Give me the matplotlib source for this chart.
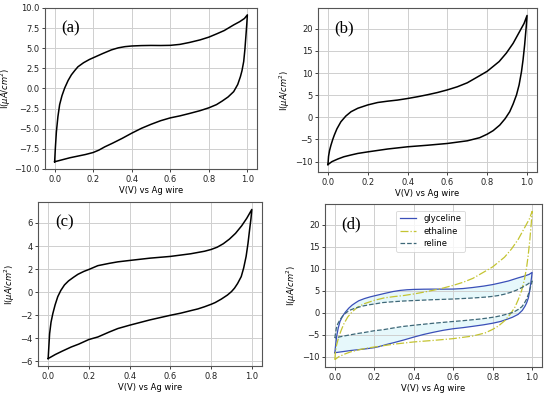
import numpy as np
import matplotlib
matplotlib.use("Agg")
import matplotlib.pyplot as plt

# ---------------- data ----------------
# glyceline, panel (a)
gly_fwd_v = [0, 0.004, 0.009, 0.017, 0.026, 0.038, 0.052, 0.07, 0.087, 0.105, 0.121, 0.15, 0.18,
             0.208, 0.25, 0.295, 0.33, 0.365, 0.4, 0.45, 0.5, 0.55, 0.6, 0.65, 0.7, 0.755, 0.8,
             0.842, 0.88, 0.929, 0.96, 0.985, 1.0]
gly_fwd_i = [-9.1, -7.3, -5.4, -3.5, -2.0, -0.9, 0.05, 1.0, 1.7, 2.25, 2.7, 3.2, 3.6,
             3.9, 4.35, 4.8, 5.05, 5.2, 5.28, 5.33, 5.35, 5.34, 5.36, 5.48, 5.72, 6.04, 6.38,
             6.8, 7.2, 7.9, 8.3, 8.7, 9.15]
gly_rev_v = [1.0, 0.997, 0.993, 0.987, 0.981, 0.972, 0.964, 0.95, 0.929, 0.9, 0.87, 0.84, 0.8,
             0.755, 0.7, 0.65, 0.6, 0.55, 0.5, 0.45, 0.4, 0.35, 0.3, 0.26, 0.23, 0.2, 0.16,
             0.12, 0.08, 0.04, 0.0]
gly_rev_i = [9.15, 8.0, 6.7, 4.8, 3.35, 2.2, 1.48, 0.5, -0.39, -1.05, -1.55, -2.0, -2.4,
             -2.75, -3.1, -3.4, -3.65, -4.0, -4.45, -4.95, -5.55, -6.2, -6.8, -7.25, -7.65, -7.95, -8.2,
             -8.4, -8.6, -8.85, -9.1]

# ethaline, panel (b)
eth_fwd_v = [0, 0.003, 0.008, 0.015, 0.024, 0.032, 0.045, 0.065, 0.09, 0.116, 0.15, 0.2, 0.25,
             0.3, 0.35, 0.4, 0.45, 0.5, 0.55, 0.6, 0.65, 0.7, 0.762, 0.8, 0.83, 0.86, 0.896,
             0.93, 0.963, 0.985, 1.0]
eth_fwd_i = [-10.66, -8.8, -7.5, -6.3, -5.0, -4.0, -2.6, -1.0, 0.3, 1.27, 2.05, 2.8, 3.35,
             3.65, 3.9, 4.25, 4.65, 5.1, 5.6, 6.2, 6.9, 7.8, 9.4, 10.4, 11.5, 12.6, 14.5,
             16.7, 19.4, 21.2, 23.0]
eth_rev_v = [1.0, 0.996, 0.992, 0.988, 0.98, 0.972, 0.96, 0.947, 0.93, 0.913, 0.89, 0.863, 0.83,
             0.8, 0.762, 0.7, 0.6, 0.5, 0.4, 0.35, 0.3, 0.2, 0.15, 0.116, 0.08, 0.05, 0.02, 0.0]
eth_rev_i = [23.0, 20.5, 18.5, 16.4, 13.0, 10.3, 7.3, 5.06, 3.0, 1.27, -0.3, -1.75, -3.0,
             -3.8, -4.6, -5.3, -5.9, -6.3, -6.65, -6.9, -7.15, -7.8, -8.15, -8.5, -8.9, -9.4, -10.0, -10.66]

# reline, panel (c)
rel_fwd_v = [0, 0.003, 0.007, 0.014, 0.023, 0.034, 0.047, 0.062, 0.08, 0.1, 0.125, 0.146, 0.175,
             0.2, 0.244, 0.3, 0.342, 0.4, 0.5, 0.6, 0.7, 0.768, 0.8, 0.83, 0.86, 0.89, 0.92,
             0.95, 0.975, 1.0]
rel_fwd_i = [-5.75, -4.8, -3.6, -2.6, -1.84, -1.1, -0.39, 0.15, 0.63, 0.98, 1.3, 1.55, 1.8,
             1.97, 2.3, 2.5, 2.63, 2.75, 2.95, 3.1, 3.33, 3.55, 3.7, 3.9, 4.2, 4.6, 5.1,
             5.75, 6.4, 7.17]
rel_rev_v = [1.0, 0.996, 0.989, 0.981, 0.972, 0.96, 0.948, 0.93, 0.915, 0.9, 0.88, 0.85, 0.82,
             0.8, 0.768, 0.735, 0.7, 0.65, 0.6, 0.5, 0.4, 0.342, 0.3, 0.244, 0.2, 0.15, 0.113,
             0.07, 0.035, 0.0]
rel_rev_i = [7.17, 6.4, 5.4, 4.2, 3.1, 2.1, 1.35, 0.75, 0.35, 0.05, -0.25, -0.6, -0.9,
             -1.05, -1.26, -1.45, -1.6, -1.82, -2.0, -2.4, -2.86, -3.15, -3.45, -3.88, -4.1, -4.5, -4.75,
             -5.1, -5.4, -5.75]

series_names = ["glyceline", "ethaline", "reline"]
panel_labels = ["(a)", "(b)", "(c)", "(d)"]
xlabel = "V(V) vs Ag wire"
ylabel = r"I($\mu A/cm^2$)"

# ---------------- style ----------------
plt.rcParams["font.family"] = ["DejaVu Sans"]
plt.rcParams["font.size"] = 6
plt.rcParams["axes.linewidth"] = 0.8
plt.rcParams["axes.edgecolor"] = "#555555"
plt.rcParams["xtick.major.size"] = 2.5
plt.rcParams["ytick.major.size"] = 2.5
plt.rcParams["xtick.major.width"] = 0.6
plt.rcParams["ytick.major.width"] = 0.6
plt.rcParams["xtick.major.pad"] = 2
plt.rcParams["ytick.major.pad"] = 1.5
plt.rcParams["xtick.color"] = "#222222"
plt.rcParams["ytick.color"] = "#222222"

fig = plt.figure(figsize=(5.5, 3.95), dpi=100)

W, H = 550.0, 395.0
def box(l, r, t, b):
    return [l / W, (H - b) / H, (r - l) / W, (b - t) / H]

ax_a = fig.add_axes(box(45, 257, 8, 169))
ax_b = fig.add_axes(box(318, 537, 8, 172))
ax_c = fig.add_axes(box(38, 262, 202, 366))
ax_d = fig.add_axes(box(325, 542, 204, 367))

def loop(fv, fi, rv, ri):
    return list(fv) + list(rv), list(fi) + list(ri)

gly_v, gly_i = loop(gly_fwd_v, gly_fwd_i, gly_rev_v, gly_rev_i)
eth_v, eth_i = loop(eth_fwd_v, eth_fwd_i, eth_rev_v, eth_rev_i)
rel_v, rel_i = loop(rel_fwd_v, rel_fwd_i, rel_rev_v, rel_rev_i)

for ax, (v, i) in zip([ax_a, ax_b, ax_c], [(gly_v, gly_i), (eth_v, eth_i), (rel_v, rel_i)]):
    ax.plot(v, i, color="black", lw=1.1, solid_joinstyle="round")

# panel (d)
ax_d.fill(list(gly_fwd_v) + list(rel_fwd_v)[::-1], list(gly_fwd_i) + list(rel_fwd_i)[::-1],
          color="#e6f8fb", lw=0, zorder=0.5)
ax_d.fill(list(gly_rev_v) + list(rel_rev_v)[::-1], list(gly_rev_i) + list(rel_rev_i)[::-1],
          color="#e6f8fb", lw=0, zorder=0.5)
ax_d.plot(gly_v, gly_i, color="#3a4fb8", lw=0.9, ls="-", label=series_names[0])
ax_d.plot(eth_v, eth_i, color="#c4c432", lw=0.9, ls="-.", label=series_names[1])
ax_d.plot(rel_v, rel_i, color="#3e6878", lw=0.9, ls="--", label=series_names[2])
leg = ax_d.legend(loc="upper center", fontsize=6, frameon=True, borderpad=0.45,
                  handlelength=2.0, labelspacing=0.4, bbox_to_anchor=(0.486, 0.985))
leg.get_frame().set_edgecolor("#cccccc")
leg.get_frame().set_linewidth(0.6)

ax_a.set_ylim(-10, 10)
ax_a.set_yticks([-10.0, -7.5, -5.0, -2.5, 0.0, 2.5, 5.0, 7.5, 10.0])
ax_b.set_yticks([-10, -5, 0, 5, 10, 15, 20])
ax_c.set_yticks([-6, -4, -2, 0, 2, 4, 6])
ax_d.set_yticks([-10, -5, 0, 5, 10, 15, 20])

for ax, lab in zip([ax_a, ax_b, ax_c, ax_d], panel_labels):
    ax.set_xticks([0.0, 0.2, 0.4, 0.6, 0.8, 1.0])
    ax.grid(True, color="#cfcfcf", lw=0.7)
    ax.set_axisbelow(True)
    ax.set_xlabel(xlabel, labelpad=1.5)
    ax.set_ylabel(ylabel, labelpad=2)
    ax.text(0.075, 0.875, lab, transform=ax.transAxes, family="Liberation Serif",
            fontsize=12, ha="left", va="center")

ax_a.yaxis.set_label_coords(-0.15, 0.5)

fig.savefig("out.png", dpi=100)
